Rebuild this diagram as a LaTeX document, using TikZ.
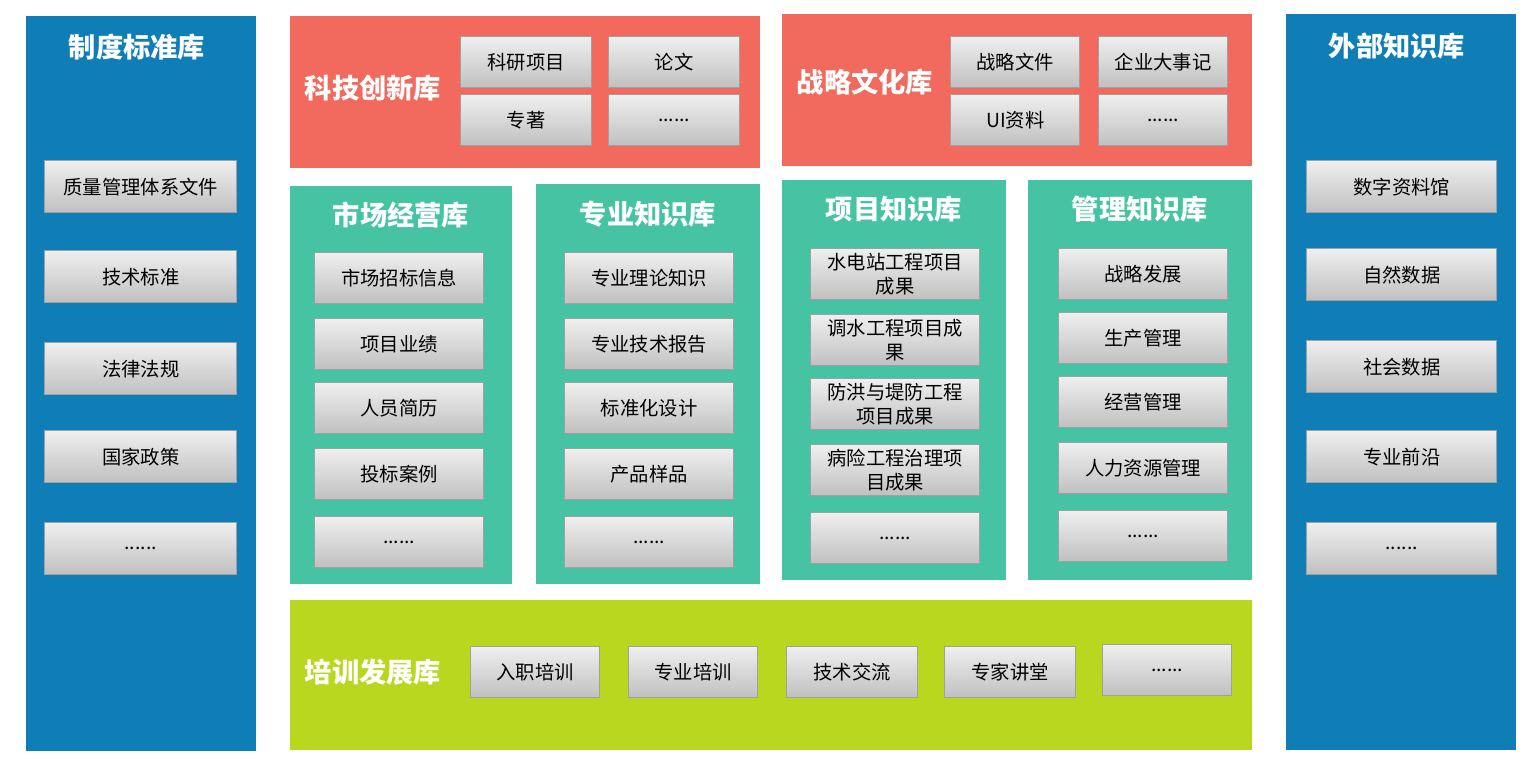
\documentclass[tikz,border=0pt]{standalone}
\usepackage{fontspec}
\usepackage{xcolor}
\newfontfamily\cjk{Noto Sans CJK SC}
\definecolor{stdblue}{HTML}{0F7EB7}
\definecolor{innovred}{HTML}{F26A5D}
\definecolor{knowgreen}{HTML}{45C3A3}
\definecolor{trainlime}{HTML}{B8D71E}
\definecolor{itemline}{HTML}{A0A0A0}
\definecolor{itemtop}{HTML}{EFEFEF}
\definecolor{itembot}{HTML}{C0C0C0}
\newcommand\moredots{......}

\tikzset{
    size/.style 2 args={minimum width=#1*0.02cm, minimum height=#2*0.02cm},
    panel/.style={inner sep=0pt, outer sep=0pt, anchor=north west},
    libtitle/.style={text=white, font=\cjk\bfseries\fontsize{15.5}{18}\selectfont},
    item/.style={draw=itemline, line width=0.8pt, top color=itemtop, bottom color=itembot,
                 inner sep=0pt, anchor=north west, align=center,
                 font=\cjk\fontsize{11}{13.6}\selectfont}
}

\begin{document}
\begin{tikzpicture}[x=0.02cm, y=-0.02cm]
    \useasboundingbox (0,0) rectangle (1536,758);

    % Standards library (left)
    \node[panel, fill=stdblue, size={230}{735}] (std) at (26,16) {};
    \node[libtitle] (stdt) at (137,47) {制度标准库};
    \foreach \y/\t [count=\i] in {160/质量管理体系文件, 250/技术标准, 342/法律法规, 430/国家政策, 522/\moredots}
        \node[item, size={192}{52}] (std-\i) at (44,\y) {\t};

    % External library (right)
    \node[panel, fill=stdblue, size={230}{736}] (ext) at (1286,14) {};
    \node[libtitle] (extt) at (1397,46) {外部知识库};
    \foreach \y/\t [count=\i] in {160/数字资料馆, 248/自然数据, 340/社会数据, 430/专业前沿, 522/\moredots}
        \node[item, size={190}{52}] (ext-\i) at (1306,\y) {\t};

    % Innovation library
    \node[panel, fill=innovred, size={470}{152}] (inn) at (290,16) {};
    \node[libtitle] (innt) at (373,88) {科技创新库};
    \foreach \x/\y/\t [count=\i] in {460/36/科研项目, 608/36/论文, 460/94/专著, 608/94/\moredots}
        \node[item, size={131}{51}] (inn-\i) at (\x,\y) {\t};

    % Strategy and culture library
    \node[panel, fill=innovred, size={470}{152}] (str) at (782,14) {};
    \node[libtitle] (strt) at (865,82) {战略文化库};
    \foreach \x/\y/\t [count=\i] in {950/36/战略文件, 1098/36/企业大事记, 950/94/UI资料, 1098/94/\moredots}
        \node[item, size={129}{51}] (str-\i) at (\x,\y) {\t};

    % Market library
    \node[panel, fill=knowgreen, size={222}{398}] (mkt) at (290,186) {};
    \node[libtitle] (mktt) at (401,215) {市场经营库};
    \foreach \y/\t [count=\i] in {252/市场招标信息, 318/项目业绩, 382/人员简历, 448/投标案例, 516/\moredots}
        \node[item, size={169}{51}] (mkt-\i) at (314,\y) {\t};

    % Professional library
    \node[panel, fill=knowgreen, size={224}{400}] (pro) at (536,184) {};
    \node[libtitle] (prot) at (648,214) {专业知识库};
    \foreach \y/\t [count=\i] in {252/专业理论知识, 318/专业技术报告, 382/标准化设计, 448/产品样品, 516/\moredots}
        \node[item, size={169}{51}] (pro-\i) at (564,\y) {\t};

    % Project library
    \node[panel, fill=knowgreen, size={224}{400}] (prj) at (782,180) {};
    \node[libtitle] (prjt) at (894,209) {项目知识库};
    \foreach \y/\t [count=\i] in {248/水电站工程项目\\成果, 314/调水工程项目成\\果, 378/防洪与堤防工程\\项目成果, 444/病险工程治理项\\目成果, 512/\moredots}
        \node[item, size={169}{51}] (prj-\i) at (810,\y) {\t};

    % Management library
    \node[panel, fill=knowgreen, size={224}{400}] (mgt) at (1028,180) {};
    \node[libtitle] (mgtt) at (1140,209) {管理知识库};
    \foreach \y/\t [count=\i] in {248/战略发展, 312/生产管理, 376/经营管理, 442/人力资源管理, 510/\moredots}
        \node[item, size={169}{51}] (mgt-\i) at (1058,\y) {\t};

    % Training library
    \node[panel, fill=trainlime, size={962}{150}] (trn) at (290,600) {};
    \node[libtitle] (trnt) at (373,672) {培训发展库};
    \foreach \x/\y/\w/\t [count=\i] in {470/646/129/入职培训, 628/646/129/专业培训, 786/646/131/技术交流, 944/646/131/专家讲堂, 1102/644/129/\moredots}
        \node[item, size={\w}{51}] (trn-\i) at (\x,\y) {\t};
\end{tikzpicture}
\end{document}
